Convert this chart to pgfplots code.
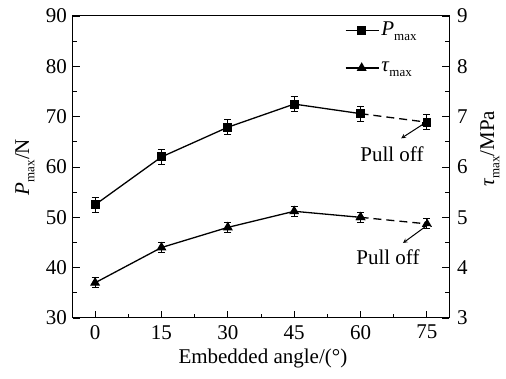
\documentclass[border=0pt]{standalone}
\usepackage{pgfplots}
\pgfplotsset{compat=1.18}
\usepackage{fontspec}
\setmainfont{Liberation Serif}
\newcommand\sub[1]{\raisebox{-0.55ex}{\fontsize{13}{13}\selectfont #1}}
\begin{document}
\fontsize{21}{24}\selectfont
\begin{tikzpicture}
\pgfplotsset{
 every axis/.append style={
   scale only axis, width=376pt, height=302pt,
   xmin=-5, xmax=80,
   /pgf/number format/assume math mode=true,
   tick style={black, line width=0.8pt},
   major tick length=7pt, minor tick length=4pt,
   axis line style={line width=1pt},
   tick align=inside,
   font=\fontsize{21}{24}\selectfont,
   every tick label/.append style={font=\fontsize{21}{24}\selectfont},
   yticklabel style={xshift=1pt},
 },
 myline/.style={black, line width=1.3pt, mark size=3.8pt,
   error bars/y dir=both, error bars/y explicit,
   error bars/error bar style={line width=1pt},
   error bars/error mark options={line width=1pt, mark size=3.5pt, rotate=90}},
}
\begin{axis}[
  ymin=30, ymax=90, ytick={30,40,...,90}, minor y tick num=1,
  xtick={0,15,...,75}, minor x tick num=1,
  xtick pos=bottom, ytick pos=left,
  xlabel={Embedded angle/(°)},
  ylabel={\textit{P}\sub{max}/N},
  xlabel style={at={(axis description cs:0.505,-0.135)}, anchor=center},
  ylabel style={at={(axis description cs:-0.128,0.5)}, anchor=center},
]
\addplot[myline, mark=square*] coordinates {
 (0,52.5) +- (0,1.5)
 (15,62.0) +- (0,1.5)
 (30,67.9) +- (0,1.5)
 (45,72.5) +- (0,1.5)
 (60,70.6) +- (0,1.5)
};
\addplot[myline, mark=square*, dash pattern=on 8pt off 5pt] coordinates {
 (60,70.6) +- (0,1.5)
 (75,68.9) +- (0,1.5)
};
\draw[-stealth, line width=1pt] (axis cs:74.5,68.7) -- (axis cs:69.2,65.7);
\node at (axis cs:67.1,62.6) {Pull off};
\end{axis}
\begin{axis}[
  ymin=3, ymax=9, ytick={3,4,...,9}, minor y tick num=1,
  hide x axis, axis y line*=right,
  ylabel={\textit{τ}\sub{max}/MPa},
  ylabel style={at={(axis description cs:1.109,0.56)}, anchor=center},
  legend style={draw=none, fill=none, at={(axis description cs:0.715,0.995)}, anchor=north west,
    row sep=19pt, font=\fontsize{21}{24}\selectfont},
  legend cell align=left,
  legend image code/.code={\draw[#1, mark repeat=2, mark phase=2] plot coordinates {(0pt,0pt) (16pt,0pt) (33pt,0pt)};},
]
\addlegendimage{black, line width=1.3pt, mark=square*, mark size=3.8pt}
\addlegendentry{\textit{P}\sub{max}}
\addplot[myline, mark=triangle*, mark size=4.5pt] coordinates {
 (0,3.70) +- (0,0.1)
 (15,4.40) +- (0,0.1)
 (30,4.80) +- (0,0.1)
 (45,5.12) +- (0,0.1)
 (60,5.00) +- (0,0.1)
};
\addlegendentry{\textit{τ}\sub{max}}
\addplot[myline, mark=triangle*, mark size=4.5pt, dash pattern=on 8pt off 5pt, forget plot] coordinates {
 (60,5.00) +- (0,0.1)
 (75,4.87) +- (0,0.1)
};
\draw[-stealth, line width=1pt] (axis cs:75.2,4.85) -- (axis cs:69.6,4.49);
\node at (axis cs:66.2,4.21) {Pull off};
\end{axis}
\pgfresetboundingbox
\path (-73pt,-61pt) rectangle (433pt,318pt);
\end{tikzpicture}
\end{document}
